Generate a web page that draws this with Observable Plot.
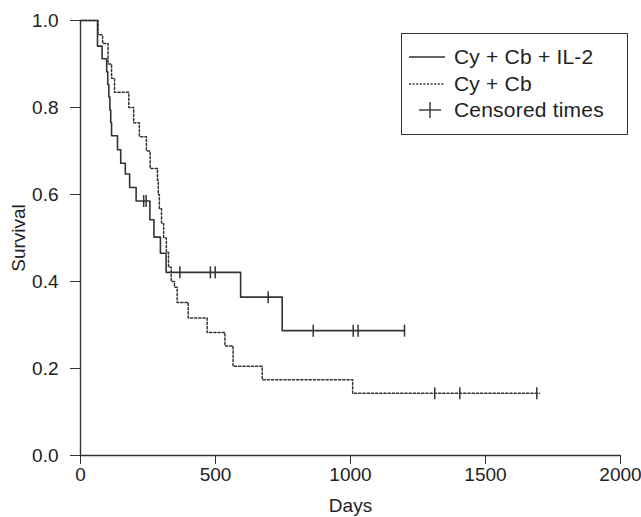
<!DOCTYPE html>
<html>
<head>
<meta charset="utf-8">
<script src="https://cdn.jsdelivr.net/npm/d3@7"></script>
<script src="https://cdn.jsdelivr.net/npm/@observablehq/plot@0.6"></script>
<style>
  html, body { margin: 0; padding: 0; background: #fff; }
  #wrap { position: relative; width: 641px; height: 517px; font-family: "Liberation Sans", Arial, sans-serif; color: #222; }
  #legend { position: absolute; left: 401px; top: 33px; width: 227px; height: 102px; border: 1.3px solid #333; box-sizing: border-box; background: #fff; }
  .row { position: absolute; left: 0; height: 26px; display: flex; align-items: center; font-size: 21px; white-space: nowrap; letter-spacing: 0.2px; }
  .row svg { margin-left: 7px; margin-right: 9px; }
</style>
</head>
<body>
<div id="wrap"></div>
<script>
// ---- data ----
const il2Days  = [0, 63, 80, 97, 101, 105, 109, 112, 115, 137, 149, 166, 182, 206, 257, 272, 296, 317, 593, 747, 1200];
const il2Surv  = [1.0, 0.941, 0.912, 0.882, 0.853, 0.824, 0.794, 0.765, 0.735, 0.703, 0.672, 0.647, 0.616, 0.585, 0.542, 0.502, 0.465, 0.421, 0.364, 0.287, 0.287];
const il2Censored = [234, 243, 368, 481, 499, 695, 862, 1010, 1028, 1200];

const cbDays = [0, 65, 82, 102, 115, 126, 179, 197, 218, 244, 258, 285, 288, 292, 300, 308, 318, 326, 336, 348, 358, 399, 469, 535, 565, 673, 1008, 1700];
const cbSurv = [1.0, 0.967, 0.947, 0.9, 0.867, 0.835, 0.80, 0.765, 0.733, 0.70, 0.66, 0.633, 0.60, 0.567, 0.533, 0.50, 0.467, 0.433, 0.40, 0.387, 0.352, 0.316, 0.283, 0.252, 0.205, 0.174, 0.143, 0.143];
const cbCensored = [1312, 1405, 1690];

const xTicks = [0, 500, 1000, 1500, 2000];
const yTicks = [0, 0.2, 0.4, 0.6, 0.8, 1.0];
const seriesNames = ["Cy + Cb + IL-2", "Cy + Cb", "Censored times"];

// ---- build tables ----
const il2 = il2Days.map((d, i) => ({day: d, surv: il2Surv[i]}));
const cb = cbDays.map((d, i) => ({day: d, surv: cbSurv[i]}));
function survAt(days, surv, t) {
  let s = surv[0];
  for (let i = 0; i < days.length; i++) if (days[i] <= t) s = surv[i];
  return s;
}
const censorMarks = [
  ...il2Censored.map(t => ({day: t, surv: survAt(il2Days, il2Surv, t)})),
  ...cbCensored.map(t => ({day: t, surv: survAt(cbDays, cbSurv, t)}))
];

const vbar = { draw(ctx, size) { const r = Math.sqrt(size / Math.PI); ctx.moveTo(0, -r); ctx.lineTo(0, r); } };
const ink = "#333";

const chart = Plot.plot({
  width: 641, height: 517,
  marginLeft: 80, marginRight: 21, marginTop: 20, marginBottom: 62,
  style: { fontFamily: '"Liberation Sans", Arial, sans-serif', fontSize: "19px", color: "#222", background: "#fff" },
  x: { domain: [0, 2000] },
  y: { domain: [0, 1] },
  marks: [
    Plot.axisX({ ticks: xTicks, tickSize: 9, tickPadding: 3, tickFormat: d => String(d), label: "Days", labelAnchor: "center", labelArrow: "none", labelOffset: 56, stroke: ink }),
    Plot.axisY({ ticks: yTicks, tickSize: 10, tickPadding: 12, tickFormat: d3.format(".1f"), label: "Survival", labelAnchor: "center", labelArrow: "none", labelOffset: 69, stroke: ink }),
    Plot.ruleX([0], { stroke: ink, strokeWidth: 1.4 }),
    Plot.ruleY([0], { stroke: ink, strokeWidth: 1.4 }),
    Plot.line(cb, { x: "day", y: "surv", curve: "step-after", stroke: ink, strokeWidth: 1.5, strokeDasharray: "2.2,2" }),
    Plot.line(il2, { x: "day", y: "surv", curve: "step-after", stroke: ink, strokeWidth: 1.6 }),
    Plot.dot(censorMarks, { x: "day", y: "surv", symbol: vbar, r: 6, stroke: ink, strokeWidth: 1.5, fill: "none" })
  ]
});

const wrap = document.getElementById("wrap");
wrap.appendChild(chart);

// ---- legend ----
const legend = document.createElement("div");
legend.id = "legend";
const samples = [
  `<svg width="36" height="10"><line x1="0" y1="5" x2="36" y2="5" stroke="${ink}" stroke-width="1.5"/></svg>`,
  `<svg width="36" height="10"><line x1="0" y1="5" x2="36" y2="5" stroke="${ink}" stroke-width="1.3" stroke-dasharray="2,1.6"/></svg>`,
  `<svg width="36" height="16"><line x1="10" y1="8" x2="32" y2="8" stroke="${ink}" stroke-width="1.4"/><line x1="21" y1="0" x2="21" y2="16" stroke="${ink}" stroke-width="1.4"/></svg>`
];
seriesNames.forEach((name, i) => {
  const row = document.createElement("div");
  row.className = "row";
  row.style.top = (10 + i * 26.5) + "px";
  row.innerHTML = samples[i] + `<span>${name}</span>`;
  legend.appendChild(row);
});
wrap.appendChild(legend);
</script>
</body>
</html>
